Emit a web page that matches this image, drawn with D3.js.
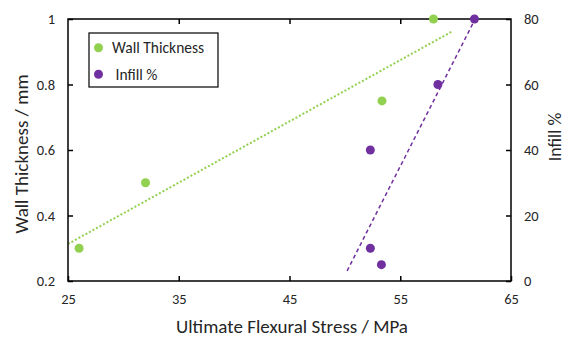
<!DOCTYPE html>
<html>
<head>
<meta charset="utf-8">
<script src="https://cdn.jsdelivr.net/npm/d3@7"></script>
<style>
  body { margin: 0; background: #fff; }
  text { font-family: Carlito, Lato, "Liberation Sans", sans-serif; fill: #262626; }
</style>
</head>
<body>
<div class="chart"></div>
<script>
// Data
const wallStress = [26, 32, 53.35, 58];
const wallThickness = [0.3, 0.5, 0.75, 1.0];
const infillStress = [61.7, 58.4, 52.3, 52.3, 53.3];
const infillPct = [80, 60, 40, 10, 5];

const xTicks = [25, 35, 45, 55, 65];
const yLeftTicks = [0.2, 0.4, 0.6, 0.8, 1];
const yRightTicks = [0, 20, 40, 60, 80];

// trendline extents (forecast ranges)
const wallTrendRange = [25, 59.7];
const infillTrendRange = [50.2, 61.7];

const width = 566, height = 338;
const margin = { top: 19, right: 55, bottom: 57, left: 68 };
const plotW = width - margin.left - margin.right;
const plotH = height - margin.top - margin.bottom;

const svg = d3.select(".chart").append("svg")
    .attr("width", width)
    .attr("height", height);

const g = svg.append("g")
    .attr("transform", "translate(" + margin.left + "," + margin.top + ")");

const x = d3.scaleLinear().domain([25, 65]).range([0, plotW]);
const yL = d3.scaleLinear().domain([0.2, 1]).range([plotH, 0]);
const yR = d3.scaleLinear().domain([0, 80]).range([plotH, 0]);

// least squares fit
function fit(xs, ys) {
    const mx = d3.mean(xs), my = d3.mean(ys);
    let sxy = 0, sxx = 0;
    xs.forEach((v, i) => { sxy += (v - mx) * (ys[i] - my); sxx += (v - mx) * (v - mx); });
    const slope = sxy / sxx;
    return t => my + slope * (t - mx);
}

g.append("clipPath").attr("id", "clip")
    .append("rect").attr("width", plotW).attr("height", plotH);

// trendlines
const wallFit = fit(wallStress, wallThickness);
const infillFit = fit(infillStress, infillPct);

g.append("line")
    .attr("clip-path", "url(#clip)")
    .attr("x1", x(wallTrendRange[0])).attr("y1", yL(wallFit(wallTrendRange[0])))
    .attr("x2", x(wallTrendRange[1])).attr("y2", yL(wallFit(wallTrendRange[1])))
    .attr("stroke", "#92D050")
    .attr("stroke-width", 2)
    .attr("stroke-dasharray", "2,2");

g.append("line")
    .attr("clip-path", "url(#clip)")
    .attr("x1", x(infillTrendRange[0])).attr("y1", yR(infillFit(infillTrendRange[0])))
    .attr("x2", x(infillTrendRange[1])).attr("y2", yR(infillFit(infillTrendRange[1])))
    .attr("stroke", "#7030A0")
    .attr("stroke-width", 1.5)
    .attr("stroke-dasharray", "4,3");

// frame
g.append("rect")
    .attr("width", plotW).attr("height", plotH)
    .attr("fill", "none").attr("stroke", "#000").attr("stroke-width", 1.5);

// axes with inward ticks
const axisStyle = sel => {
    sel.select(".domain").remove();
    sel.selectAll("line").attr("stroke", "#000").attr("stroke-width", 1.5);
    sel.selectAll("text").style("font-size", "14.5px").attr("fill", "#262626");
};

g.append("g").attr("transform", "translate(0," + plotH + ")")
    .call(d3.axisBottom(x).tickValues(xTicks).tickSizeInner(-5).tickSizeOuter(0).tickPadding(13))
    .call(axisStyle);

g.append("g")
    .call(d3.axisTop(x).tickValues(xTicks.slice(1, -1)).tickSizeInner(-5).tickSizeOuter(0).tickFormat(""))
    .call(axisStyle);

g.append("g")
    .call(d3.axisLeft(yL).tickValues(yLeftTicks).tickSizeInner(-5).tickSizeOuter(0).tickPadding(13)
        .tickFormat(d => d === 1 ? "1" : d3.format(".1f")(d)))
    .call(axisStyle);

g.append("g").attr("transform", "translate(" + plotW + ",0)")
    .call(d3.axisRight(yR).tickValues(yRightTicks).tickSizeInner(-5).tickSizeOuter(0).tickPadding(13))
    .call(axisStyle);

// points
g.selectAll(".wall").data(wallStress).join("circle")
    .attr("class", "wall")
    .attr("cx", d => x(d))
    .attr("cy", (d, i) => yL(wallThickness[i]))
    .attr("r", 4.5)
    .attr("fill", "#92D050");

g.selectAll(".infill").data(infillStress).join("circle")
    .attr("class", "infill")
    .attr("cx", d => x(d))
    .attr("cy", (d, i) => yR(infillPct[i]))
    .attr("r", 4.5)
    .attr("fill", "#7030A0");

// axis titles
svg.append("text")
    .attr("x", 292).attr("y", 333)
    .attr("text-anchor", "middle")
    .style("font-size", "19px")
    .text("Ultimate Flexural Stress / MPa");

svg.append("text")
    .attr("transform", "translate(28,154) rotate(-90)")
    .attr("text-anchor", "middle")
    .style("font-size", "19px")
    .text("Wall Thickness / mm");

svg.append("text")
    .attr("transform", "translate(561,137) rotate(-90)")
    .attr("text-anchor", "middle")
    .style("font-size", "18px")
    .text("Infill %");

// legend
const legend = svg.append("g").attr("transform", "translate(89,33)");
legend.append("rect")
    .attr("width", 129).attr("height", 54)
    .attr("fill", "#fff").attr("stroke", "#000").attr("stroke-width", 1.2);

const legendItems = [["Wall Thickness", "#92D050"], ["Infill %", "#7030A0"]];
const li = legend.selectAll(".li").data(legendItems).join("g")
    .attr("class", "li")
    .attr("transform", (d, i) => "translate(0," + (14.7 + i * 26.6) + ")");
li.append("circle").attr("cx", 9.5).attr("cy", 0).attr("r", 4.5).attr("fill", d => d[1]);
li.append("text")
    .attr("x", (d, i) => i === 0 ? 23 : 26.5)
    .attr("y", 0).attr("dy", "0.35em")
    .style("font-size", "15.5px")
    .text(d => d[0]);
</script>
</body>
</html>
